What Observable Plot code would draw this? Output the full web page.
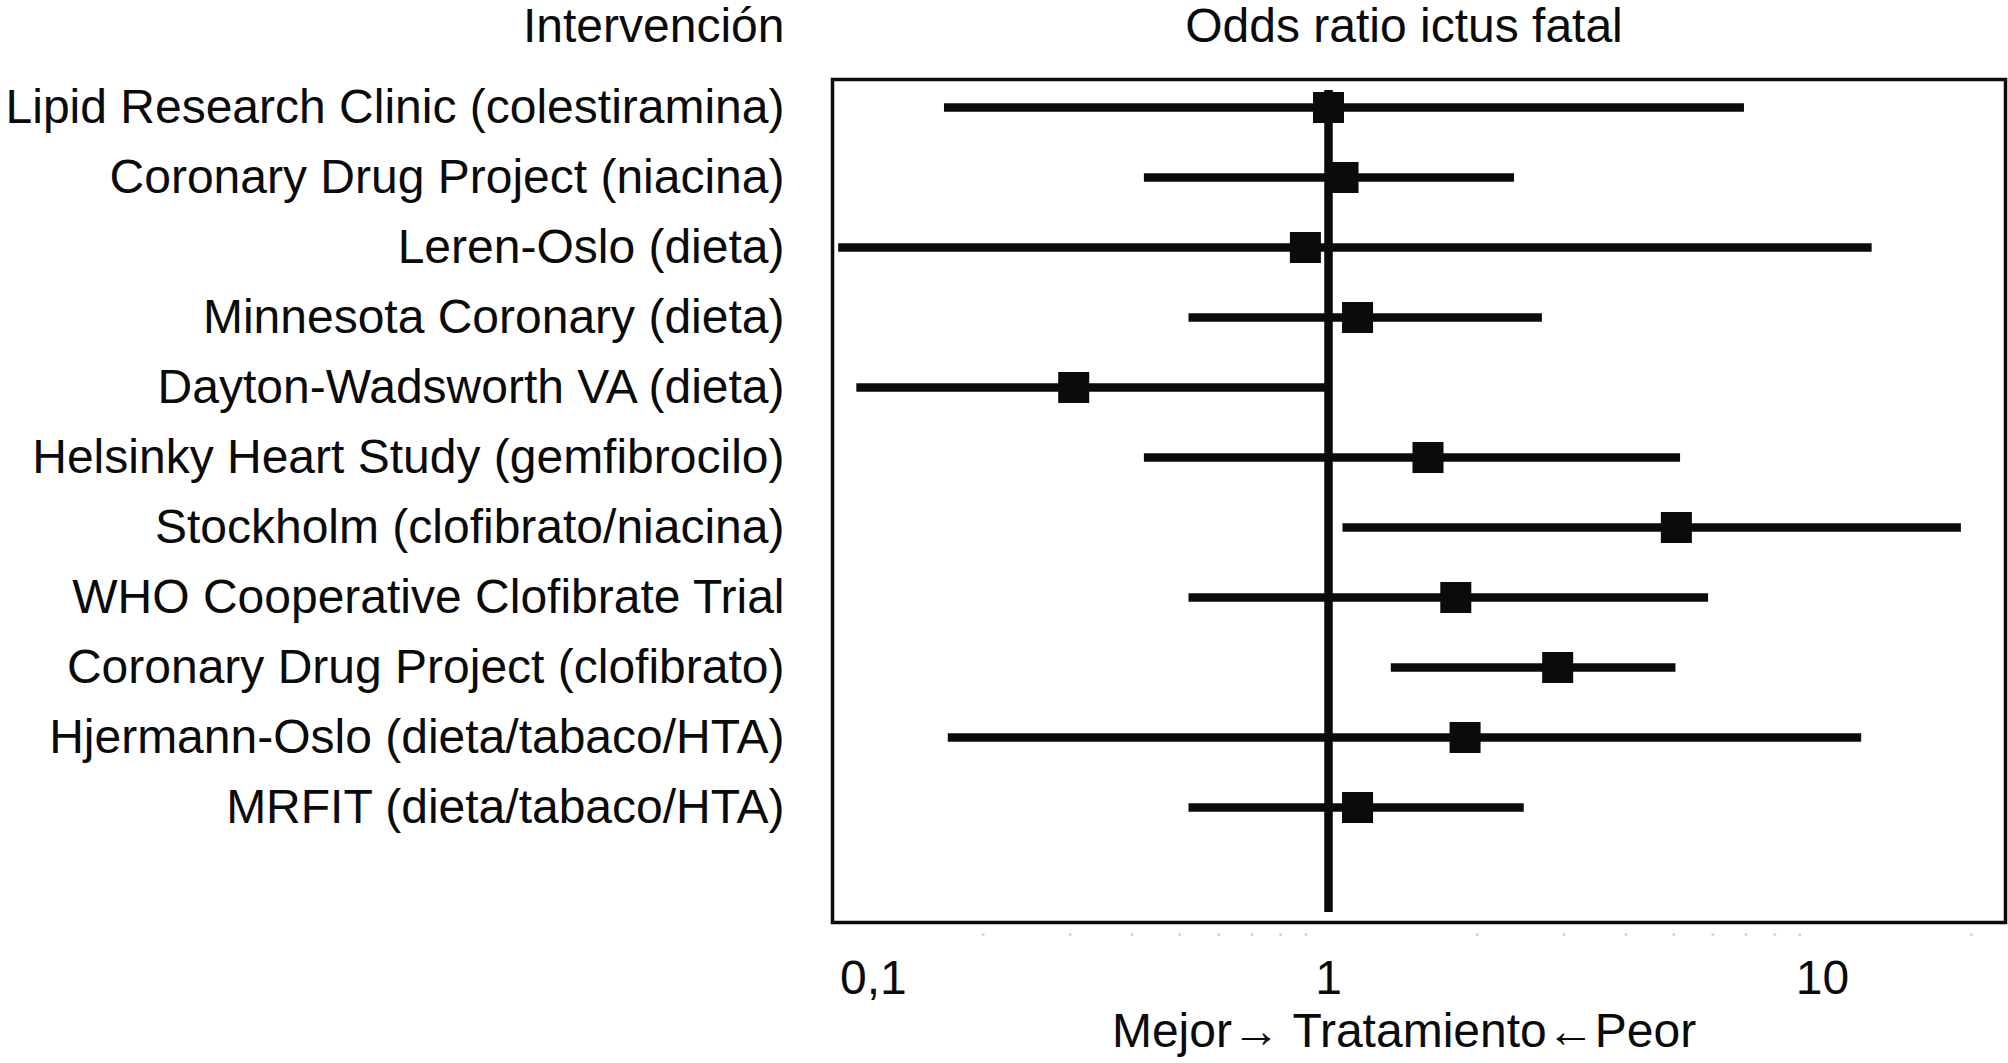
<!DOCTYPE html>
<html>
<head>
<meta charset="utf-8">
<script src="https://cdn.jsdelivr.net/npm/d3@7"></script>
<script src="https://cdn.jsdelivr.net/npm/@observablehq/plot@0.6"></script>
<style>
  html, body { margin: 0; padding: 0; background: #fff; }
  #chart { width: 2008px; height: 1063px; }
</style>
</head>
<body>
<div id="chart"></div>
<script>
const studies = [
  "Lipid Research Clinic (colestiramina)",
  "Coronary Drug Project (niacina)",
  "Leren-Oslo (dieta)",
  "Minnesota Coronary (dieta)",
  "Dayton-Wadsworth VA (dieta)",
  "Helsinky Heart Study (gemfibrocilo)",
  "Stockholm (clofibrato/niacina)",
  "WHO Cooperative Clofibrate Trial",
  "Coronary Drug Project (clofibrato)",
  "Hjermann-Oslo (dieta/tabaco/HTA)",
  "MRFIT (dieta/tabaco/HTA)"
];
const oddsRatio = [1.0, 1.07, 0.898, 1.145, 0.305, 1.59, 5.06, 1.81, 2.91, 1.89, 1.145];
const ciLow     = [0.167, 0.424, 0.102, 0.522, 0.111, 0.424, 1.07, 0.522, 1.34, 0.170, 0.522];
const ciHigh    = [6.95, 2.38, 12.6, 2.71, 1.0, 5.16, 19.1, 5.88, 5.05, 12.0, 2.49];
const majorTicks = [1, 10];
const firstTick = [0.1];
const minorTicks = [0.2, 0.3, 0.4, 0.5, 0.6, 0.7, 0.8, 0.9, 2, 3, 4, 5, 6, 7, 8, 9, 20];
const xDomain = [0.0991, 23.46];
const titleText = "Odds ratio ictus fatal";
const yTitle = "Intervención";
const xTitle = "Mejor\u2192 Tratamiento\u2190Peor";

const rows = studies.map((s, i) => ({study: s, or: oddsRatio[i], lo: ciLow[i], hi: ciHigh[i]}));
const fmt = d => String(d).replace(".", ",");
const ink = "#0b0b0b";

const chart = Plot.plot({
  width: 2008,
  height: 1063,
  marginLeft: 832,
  marginRight: 3,
  marginTop: 79,
  marginBottom: 141,
  style: {fontFamily: "'Liberation Sans', Arial, Helvetica, sans-serif", fontSize: "48px", color: ink, background: "#fff"},
  x: {type: "log", domain: xDomain},
  y: {type: "point", domain: studies, padding: 0, insetTop: 27, insetBottom: 115},
  marks: [
    Plot.frame({stroke: ink, strokeWidth: 3.5}),
    Plot.dot(minorTicks, {x: d => d, frameAnchor: "bottom", dy: 12, r: 1.6, fill: "#d6d6d6", stroke: null}),
    Plot.ruleX([1], {stroke: ink, strokeWidth: 8.5, insetTop: 11, insetBottom: 10}),
    Plot.ruleY(rows, {y: "study", x1: "lo", x2: "hi", stroke: ink, strokeWidth: 8.5}),
    Plot.dot(rows, {x: "or", y: "study", symbol: "square", r: 17.5, fill: ink, stroke: null}),
    Plot.axisY({tickSize: 0, tickPadding: 48, fontSize: 48, label: null, fill: ink}),
    Plot.axisX(majorTicks, {tickSize: 0, tickPadding: 37, fontSize: 48, tickFormat: fmt, label: null, fill: ink}),
    Plot.axisX(firstTick, {tickSize: 0, tickPadding: 37, fontSize: 48, tickFormat: fmt, label: null, dx: 39, fill: ink}),
    Plot.text([titleText], {frameAnchor: "top", dx: -15, dy: -53, fontSize: 48, fill: ink, lineAnchor: "middle"}),
    Plot.text([yTitle], {frameAnchor: "top-left", dx: -48, dy: -53, textAnchor: "end", fontSize: 48, fill: ink, lineAnchor: "middle"}),
    Plot.text([xTitle], {frameAnchor: "bottom", dx: -15, dy: 109, fontSize: 48, fill: ink, lineAnchor: "middle"})
  ]
});
document.getElementById("chart").appendChild(chart);
</script>
</body>
</html>
